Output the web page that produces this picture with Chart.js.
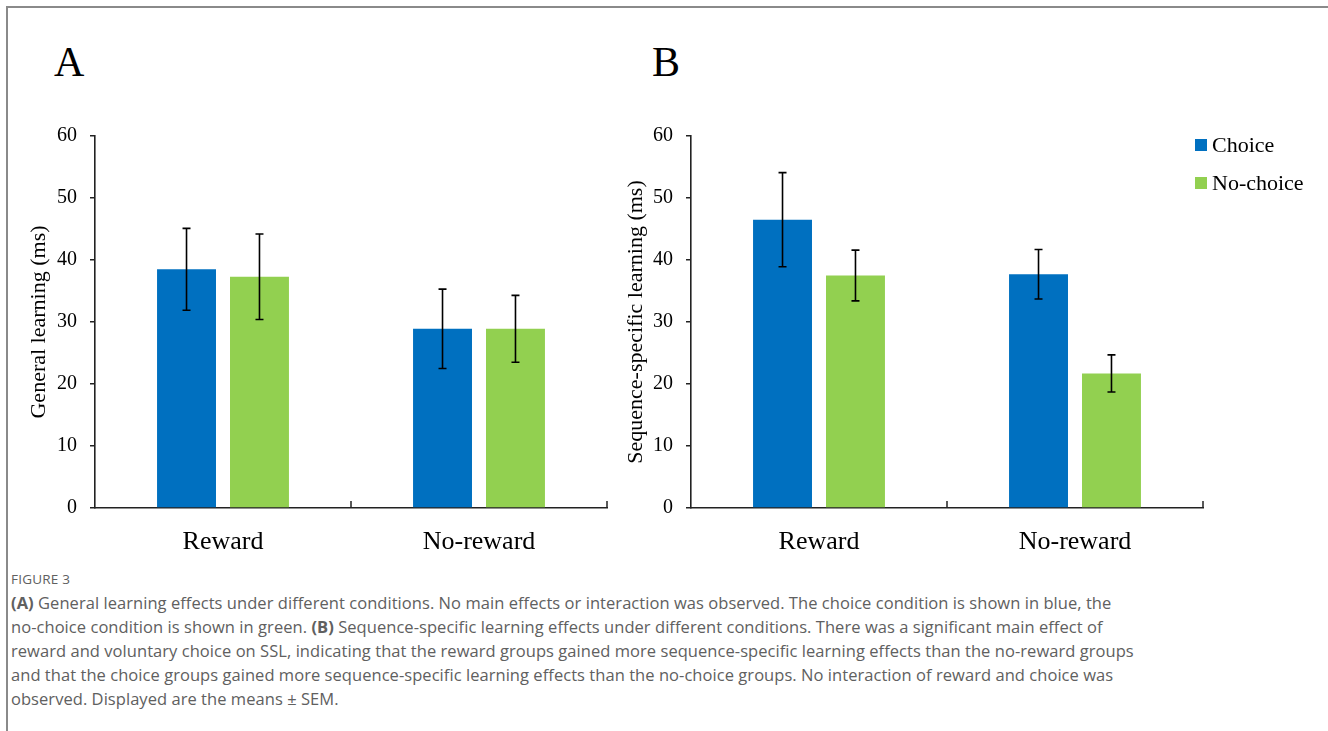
<!DOCTYPE html>
<html>
<head>
<meta charset="utf-8">
<script src="https://cdn.jsdelivr.net/npm/chart.js@4.4.1/dist/chart.umd.min.js"></script>
<style>
  html, body { margin: 0; padding: 0; background: #fff; }
  body { width: 1328px; height: 731px; position: relative; overflow: hidden; }
  .frame { position: absolute; left: 6px; top: 6px; width: 1330px; height: 740px;
           border-left: 2px solid #8a8a8a; border-top: 2px solid #8a8a8a; }
  .panel { position: absolute; font-family: "Liberation Serif", serif; font-size: 42px; color: #000; }
  #wrapA { position: absolute; left: 0; top: 0; width: 620px; height: 565px; }
  #wrapB { position: absolute; left: 620px; top: 0; width: 708px; height: 565px; }
  .caption { position: absolute; left: 11px; top: 567px; font-family: "Open Sans", sans-serif;
             color: #606060; white-space: nowrap; }
  .caption .fig { font-size: 13.5px; letter-spacing: 0.2px; line-height: 24px; }
  .caption .txt { font-size: 16.5px; line-height: 24px; letter-spacing: 0.05px; }
  .caption b { font-weight: 700; }
</style>
</head>
<body>
<div class="frame"></div>
<div class="panel" style="left:54px; top:38px;">A</div>
<div class="panel" style="left:652px; top:38px;">B</div>
<div id="wrapA"><canvas id="chartA"></canvas></div>
<div id="wrapB"><canvas id="chartB"></canvas></div>
<div class="caption">
  <div class="fig">FIGURE 3</div>
  <div class="txt"><b>(A)</b> General learning effects under different conditions. No main effects or interaction was observed. The choice condition is shown in blue, the<br>
  no-choice condition is shown in green. <b>(B)</b> Sequence-specific learning effects under different conditions. There was a significant main effect of<br>
  reward and voluntary choice on SSL, indicating that the reward groups gained more sequence-specific learning effects than the no-reward groups<br>
  and that the choice groups gained more sequence-specific learning effects than the no-choice groups. No interaction of reward and choice was<br>
  observed. Displayed are the means ± SEM.</div>
</div>
<script>
const categories = ['Reward', 'No-reward'];
const seriesNames = ['Choice', 'No-choice'];
const colors = ['#0070C0', '#92D050'];

// panel A - general learning
const generalChoice = [38.5, 28.9];
const generalNoChoice = [37.3, 28.9];
const generalChoiceSem = [6.6, 6.4];
const generalNoChoiceSem = [6.9, 5.4];

// panel B - sequence-specific learning
const sslChoice = [46.5, 37.7];
const sslNoChoice = [37.5, 21.7];
const sslChoiceSem = [7.6, 4.0];
const sslNoChoiceSem = [4.1, 3.0];

const yTicks = [0, 10, 20, 30, 40, 50, 60];

const serif = "'Liberation Serif', 'Times New Roman', serif";

const errorBars = {
  id: 'errorBars',
  afterDatasetsDraw(chart) {
    const {ctx, scales: {x, y}} = chart;
    ctx.save();
    ctx.strokeStyle = '#000';
    ctx.lineWidth = 1.6;
    chart.data.datasets.forEach((ds, i) => {
      const meta = chart.getDatasetMeta(i);
      meta.data.forEach((bar, j) => {
        const v = ds.data[j], e = ds.sem[j];
        const top = y.getPixelForValue(v + e);
        const bot = y.getPixelForValue(v - e);
        ctx.beginPath();
        ctx.moveTo(bar.x, top); ctx.lineTo(bar.x, bot);
        ctx.moveTo(bar.x - 4, top); ctx.lineTo(bar.x + 4, top);
        ctx.moveTo(bar.x - 4, bot); ctx.lineTo(bar.x + 4, bot);
        ctx.stroke();
      });
    });
    // upward tick marks between categories on the x axis
    const half = (x.getPixelForValue(1) - x.getPixelForValue(0)) / 2;
    const base = chart.chartArea.bottom;
    ctx.lineWidth = 1.5;
    ctx.strokeStyle = '#222';
    for (let k = 0; k < categories.length; k++) {
      const px = x.getPixelForValue(k) + half;
      ctx.beginPath();
      ctx.moveTo(px, base); ctx.lineTo(px, base - 7);
      ctx.stroke();
    }
    ctx.restore();
  }
};

const customLegend = {
  id: 'customLegend',
  afterDraw(chart, args, opts) {
    if (!opts.show) return;
    const {ctx} = chart;
    ctx.save();
    ctx.font = '22px ' + serif;
    ctx.textBaseline = 'middle';
    chart.data.datasets.forEach((ds, i) => {
      const yy = opts.y + i * 38;
      ctx.fillStyle = ds.backgroundColor;
      ctx.fillRect(opts.x, yy - 6, 12, 12);
      ctx.fillStyle = '#000';
      ctx.fillText(ds.label, opts.x + 17, yy + 1);
    });
    ctx.restore();
  }
};

function makeChart(id, choice, noChoice, choiceSem, noChoiceSem, title, padLeft, yWidth, padRight, showLegend) {
  return new Chart(document.getElementById(id), {
    type: 'bar',
    data: {
      labels: categories,
      datasets: [
        { label: seriesNames[0], data: choice, sem: choiceSem, backgroundColor: colors[0],
          categoryPercentage: 0.57, barPercentage: 0.808 },
        { label: seriesNames[1], data: noChoice, sem: noChoiceSem, backgroundColor: colors[1],
          categoryPercentage: 0.57, barPercentage: 0.808 }
      ]
    },
    options: {
      responsive: true,
      maintainAspectRatio: false,
      animation: false,
      layout: { padding: { top: 136, right: padRight, left: padLeft, bottom: 0 } },
      plugins: {
        legend: { display: false },
        tooltip: { enabled: false },
        customLegend: { show: showLegend, x: 575, y: 145 }
      },
      scales: {
        x: {
          grid: { display: false },
          border: { display: true, color: '#222', width: 1.6 },
          ticks: { color: '#000', font: { family: serif, size: 26 }, padding: 11 },
          afterFit(scale) { scale.height = 57; }
        },
        y: {
          min: 0, max: 60,
          afterBuildTicks(scale) { scale.ticks = yTicks.map(v => ({value: v})); },
          grid: { drawOnChartArea: false, drawTicks: true, tickLength: 5, color: '#222', lineWidth: 1.5 },
          border: { display: true, color: '#222', width: 1.6 },
          ticks: { color: '#000', font: { family: serif, size: 20 }, padding: 13 },
          title: { display: true, text: title, color: '#000', font: { family: serif, size: 22 }, padding: { top: 0, bottom: 6 } },
          afterFit(scale) { scale.width = yWidth; }
        }
      }
    },
    plugins: [errorBars, customLegend]
  });
}

makeChart('chartA', generalChoice, generalNoChoice, generalChoiceSem, generalNoChoiceSem,
  'General learning (ms)', 26, 69, 13, false);
makeChart('chartB', sslChoice, sslNoChoice, sslChoiceSem, sslNoChoiceSem,
  'Sequence-specific learning (ms)', 3, 68, 125, true);
</script>
</body>
</html>
